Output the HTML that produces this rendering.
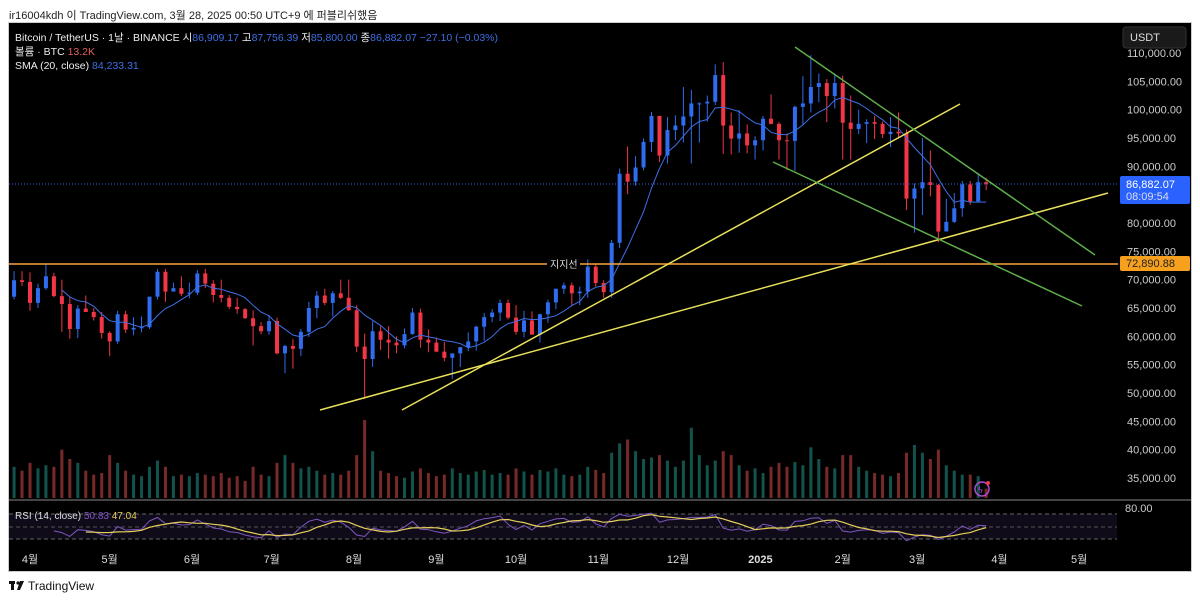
<!DOCTYPE html>
<html><head><meta charset="utf-8">
<style>
body{margin:0;background:#fff;width:1200px;height:601px;overflow:hidden;font-family:"Liberation Sans","Noto Sans CJK KR",sans-serif;}
#top{position:absolute;left:9px;top:7px;font-size:11px;color:#222;}
#chart{position:absolute;left:8px;top:22px;width:1184px;height:550px;background:#000;border:1px solid #ccc;box-sizing:border-box;}
svg text{font-family:"Liberation Sans","Noto Sans CJK KR",sans-serif;}
#logo{position:absolute;left:28px;top:579px;font-size:12px;color:#111;}
</style></head><body>
<div id="top">ir16004kdh 이 TradingView.com, 3월 28, 2025 00:50 UTC+9 에 퍼블리쉬했음</div>
<div id="chart"></div>
<svg id="svg" width="1200" height="601" style="position:absolute;left:0;top:0">
 <g id="vol"></g>
 <g id="candles"></g>
 <path id="sma" fill="none" stroke="#3f6fe6" stroke-width="1"/>
 <line x1="9" y1="184" x2="1118" y2="184" stroke="#3a63d8" stroke-dasharray="1,2"/>
 <line x1="9" y1="264" x2="1118" y2="264" stroke="#f7a43a" stroke-width="1.5"/>
 <rect x="547" y="257" width="33" height="14" fill="#000"/>
 <text x="550" y="268" font-size="10" fill="#ddd">지지선</text>
 <line x1="320" y1="410" x2="1108" y2="193" stroke="#e8e05a" stroke-width="1.5"/>
 <line x1="402" y1="410" x2="960" y2="104" stroke="#e8e05a" stroke-width="1.5"/>
 <line x1="795" y1="47" x2="1095" y2="255" stroke="#5fae4a" stroke-width="1.5"/>
 <line x1="773" y1="162" x2="1082" y2="306" stroke="#5fae4a" stroke-width="1.5"/>
 <g id="yaxis"></g>
 <rect x="1123" y="27" width="63" height="21" rx="3" fill="#1a1a1a" stroke="#333"/>
 <text x="1130" y="41" font-size="11" fill="#ddd">USDT</text>
 <rect x="1120" y="176" width="70" height="28" rx="2" fill="#2962ff"/>
 <text x="1126" y="188" font-size="11" fill="#fff">86,882.07</text>
 <text x="1126" y="200" font-size="11" fill="#dde">08:09:54</text>
 <rect x="1120" y="256" width="70" height="15" rx="2" fill="#f7a01e"/>
 <text x="1126" y="267" font-size="11" fill="#222">72,890.88</text>
 <circle cx="982" cy="489" r="7" fill="none" stroke="#b04ad0" stroke-width="1.5"/>
 <text x="978" y="493" font-size="9" fill="#b04ad0">ϟ</text>
 <circle cx="988" cy="483" r="2" fill="#f23645"/>
 <line x1="9" y1="500" x2="1191" y2="500" stroke="#888"/>
 <rect x="9" y="514" width="1108" height="25" fill="rgba(126,87,194,0.12)"/>
 <line x1="9" y1="514" x2="1117" y2="514" stroke="#666" stroke-dasharray="4,3"/>
 <line x1="9" y1="527" x2="1117" y2="527" stroke="#555" stroke-dasharray="4,3"/>
 <line x1="9" y1="539" x2="1117" y2="539" stroke="#666" stroke-dasharray="4,3"/>
 <path id="rsi" fill="none" stroke="#7e57c2" stroke-width="1"/>
 <path id="rsima" fill="none" stroke="#e5cf5c" stroke-width="1.2"/>
 <text x="1125" y="512" font-size="11" fill="#ccc">80.00</text>
 <text x="15" y="519" font-size="10" fill="#ddd">RSI (14, close) <tspan fill="#7e57c2">50.83</tspan> <tspan fill="#e5cf5c">47.04</tspan></text>
 <g id="xaxis"></g>
 <text x="15" y="41" font-size="10.5" fill="#eee">Bitcoin / TetherUS · 1날 · BINANCE  시<tspan fill="#3f6fe6">86,909.17</tspan>  고<tspan fill="#3f6fe6">87,756.39</tspan>  저<tspan fill="#3f6fe6">85,800.00</tspan>  종<tspan fill="#3f6fe6">86,882.07</tspan>  <tspan fill="#3f6fe6">−27.10 (−0.03%)</tspan></text>
 <text x="15" y="55" font-size="10.5" fill="#eee">볼륨 · BTC  <tspan fill="#e0605a">13.2K</tspan></text>
 <text x="15" y="69" font-size="10.5" fill="#eee">SMA (20, close)  <tspan fill="#3f6fe6">84,233.31</tspan></text>
 <g><rect x="9" y="581" width="6" height="3" fill="#111"/><rect x="11" y="581" width="3" height="9" fill="#111"/><circle cx="18" cy="583" r="1.6" fill="#111"/><polygon points="20,581 24,581 20,590 17,590" fill="#111"/></g>
</svg>
<div id="logo">TradingView</div>
<script>
// 3-day candles starting 2024-03-25 (prices in thousands USDT)
const opens=[67,69.9,69.6,65.9,68.5,70.6,67.1,65.7,61.3,64.9,64.3,63.4,60.6,59.1,63.9,61.2,61.5,61.6,67,71.4,67.9,68.5,67.5,67.7,71.1,69.3,67.3,66.8,65.2,64.8,63.2,61.8,60.9,62.7,57,58.3,57.8,60.8,65,67.2,65.9,67.6,66.8,64.6,58.2,56,60.9,59.4,58.9,58.4,60.4,64.2,59.4,58.9,57.3,56.2,57,58.1,59.1,61.7,63.4,64.2,65.9,63.3,60.8,62.8,60.3,63.9,66,68.4,69,67.6,67.9,72.3,69.4,67.8,76.5,88.7,87.3,89.8,94.3,98.9,91.9,96.4,97.2,98.8,101.1,101.1,101.4,106.1,97.2,94.9,95.8,93.7,94.6,98.4,97.5,94.6,94.5,100.5,101.1,104,104.7,102.4,104.7,97.7,96.6,97.5,97.8,97.5,95.7,96.1,95.8,84.3,86.1,87.2,86.7,78.5,80.2,82.6,86.8,83.8,87.2];
const closes=[69.9,69.6,65.9,68.5,70.6,67.1,65.7,61.3,64.9,64.3,63.4,60.6,59.1,63.9,61.2,61.5,61.6,67,71.4,67.9,68.5,67.5,67.7,71.1,69.3,67.3,66.8,65.2,64.8,63.2,61.8,60.9,62.7,57,58.3,57.8,60.8,65,67.2,65.9,67.6,66.8,64.6,58.2,56,60.9,59.4,58.9,58.4,60.4,64.2,59.4,58.9,57.3,56.2,57,58.1,59.1,61.7,63.4,64.2,65.9,63.3,60.8,62.8,60.3,63.9,66,68.4,69,67.6,67.9,72.3,69.4,67.8,76.5,88.7,87.3,89.8,94.3,98.9,91.9,96.4,97.2,98.8,101.1,101.1,101.4,106.1,97.2,94.9,95.8,93.7,94.6,98.4,97.5,94.6,94.5,100.5,101.1,104,104.7,102.4,104.7,97.7,96.6,97.5,97.8,97.5,95.7,96.1,95.8,84.3,86.1,87.2,86.7,78.5,80.2,82.6,86.8,83.8,87.2,86.9];
const highs=[71.5,71.5,71.3,69.3,72.7,71.2,70,66.9,65.5,67.2,65,64.3,60.9,64.5,64.5,63.4,63.5,67,71.9,71.9,69.5,70.6,69.5,71.7,71.9,69.9,70,67.3,66.8,65,64.6,62.5,63.8,63.3,58.5,59.5,61.3,66.1,68,68.4,68,70,70,65.5,60.5,62.7,61.8,61.8,60,61.4,65,64.9,61.2,59.8,59,57,58.1,60.7,61.9,64.1,64.8,66.5,66.5,65.5,64.5,64.4,64,66.5,68.4,69.5,69.5,68.8,73.6,72.7,69.9,77,89.6,93.5,91.8,94.9,99.6,98.8,98.7,99,104,103.5,101.3,102.5,108,108.4,99.5,99.9,97.4,95.3,98.9,102.7,97.8,95.8,100.7,105.9,109.6,106.4,105.4,106.4,106,102.5,100,98.3,98.9,97.9,98.7,99.5,96.5,87,95,92.8,86.9,84.3,85.3,87.4,87.4,88.8,88];
const lows=[66.5,68.9,64.5,65,68.2,66.9,60.8,59.6,59.7,64.5,62.8,59.6,56.5,58.7,60.6,60.2,60.7,61.3,66.5,66.1,67.9,67.1,66.7,67.3,68.5,66,66,64.8,64,63.1,58.4,60.4,60.3,56.8,53.5,54.3,56.5,59.9,63.2,65.5,63.5,66.6,64.5,57.2,49,54.6,57.6,56.1,57,57.9,60.3,58,57.2,57.2,55.6,52.5,54.6,57.4,57.5,59.2,62.5,62.7,63,60.3,59.8,60.3,58.9,62.4,64.8,67.5,65.3,65.5,66.8,68.8,66.8,66.8,75.6,85.1,86.6,89.3,92.5,90.8,90.5,94.6,94.2,90.5,94.2,97.9,100.8,92.2,92.1,92.4,92.3,91.2,92.8,97.4,91.2,89.3,89.2,97.3,99.5,101.3,97.8,100.2,91.2,91.2,95.7,94.1,94.8,95,93.4,94.9,82.3,78.3,81.4,84.7,76.6,79.1,80,81.1,83.2,83.8,85.8];
const volumes=[40,35,45,38,42,40,62,50,45,35,30,32,55,45,35,30,28,40,48,40,28,30,28,32,30,28,32,26,28,22,40,30,28,45,55,45,38,40,35,30,32,30,35,55,100,60,35,32,28,26,34,38,32,28,30,38,32,30,34,36,30,32,30,38,34,30,36,34,38,30,28,30,40,36,32,58,70,75,60,50,52,55,48,40,48,90,55,42,48,60,55,42,35,38,32,40,45,40,46,42,65,50,40,38,55,55,40,35,32,30,28,32,58,68,58,50,62,42,35,30,30,28,12];
const priceTicks=[110,105,100,95,90,80,75,70,65,60,55,50,45,40,35];
const monthLabels=["4월","5월","6월","7월","8월","9월","10월","11월","12월","2025","2월","3월","4월","5월"];
const monthDays=[7,37,68,98,129,160,190,221,251,282,313,341,372,402]; // days since 2024-03-25

const NS="http://www.w3.org/2000/svg";
const xDay=d=>30+(d-7)*2.656;
const xC=i=>xDay(3*i+1);
const yP=p=>53+(110-p)*5.667;
const yR=v=>527-(v-50)*0.625;
const fmt=v=>v.toLocaleString('en-US')+",000.00";
function mk(tag,attrs,parent){const e=document.createElementNS(NS,tag);for(const k in attrs)e.setAttribute(k,attrs[k]);parent.appendChild(e);return e;}

const cg=document.getElementById('candles'),vg=document.getElementById('vol');
const vmax=Math.max(...volumes);
for(let i=0;i<closes.length;i++){
  const up=closes[i]>=opens[i];const col=up?"#2f6cf0":"#f23645";const x=xC(i);
  const w=mk('line',{x1:x,x2:x,y1:yP(highs[i]),y2:yP(lows[i]),stroke:col,'stroke-width':1},cg);
  
  
  const t=Math.min(yP(opens[i]),yP(closes[i])),h=Math.max(1,Math.abs(yP(opens[i])-yP(closes[i])));
  const b=mk('rect',{x:x-2,y:t,width:4,height:h,fill:col},cg);
  
  
  const vh=volumes[i]/vmax*78;
  const v=mk('rect',{x:x-1.5,y:498-vh,width:3,height:vh,fill:up?"rgba(38,166,154,0.5)":"rgba(239,83,80,0.5)"},vg);
  
  
}
let d="";for(let i=6;i<closes.length;i++){let s=0;for(let k=i-6;k<=i;k++)s+=closes[k];d+=(d?"L":"M")+xC(i).toFixed(1)+","+yP(s/7).toFixed(1);}
document.getElementById('sma').setAttribute('d',d);
const rsi=[];let ag=0,al=0;const N=5;
for(let i=1;i<closes.length;i++){const ch=closes[i]-closes[i-1];const g=Math.max(ch,0),l=Math.max(-ch,0);
 if(i<=N){ag+=g/N;al+=l/N;}else{ag=(ag*(N-1)+g)/N;al=(al*(N-1)+l)/N;}
 if(i>=N)rsi.push([i,al===0?100:100-100/(1+ag/al)]);}
let r="";rsi.forEach(p=>{const v=50+(p[1]-50)*0.55;r+=(r?"L":"M")+xC(p[0]).toFixed(1)+","+yR(v).toFixed(1);});
document.getElementById('rsi').setAttribute('d',r);
let rm="";for(let j=4;j<rsi.length;j++){let s=0;for(let k=j-4;k<=j;k++)s+=rsi[k][1];const v=50+(s/5-50)*0.55;rm+=(rm?"L":"M")+xC(rsi[j][0]).toFixed(1)+","+yR(v).toFixed(1);}
document.getElementById('rsima').setAttribute('d',rm);
const ya=document.getElementById('yaxis');
priceTicks.forEach(p=>{const t=mk('text',{x:1127,y:yP(p)+4,'font-size':11,fill:'#ccc'},ya);t.textContent=fmt(p);
 
 });
const xa=document.getElementById('xaxis');
monthLabels.forEach((m,i)=>{const t=mk('text',{x:xDay(monthDays[i]),y:563,'font-size':11,fill:'#ddd','text-anchor':'middle','font-weight':m==="2025"?"bold":"normal"},xa);t.textContent=m;
 
 });
</script>
</body></html>
